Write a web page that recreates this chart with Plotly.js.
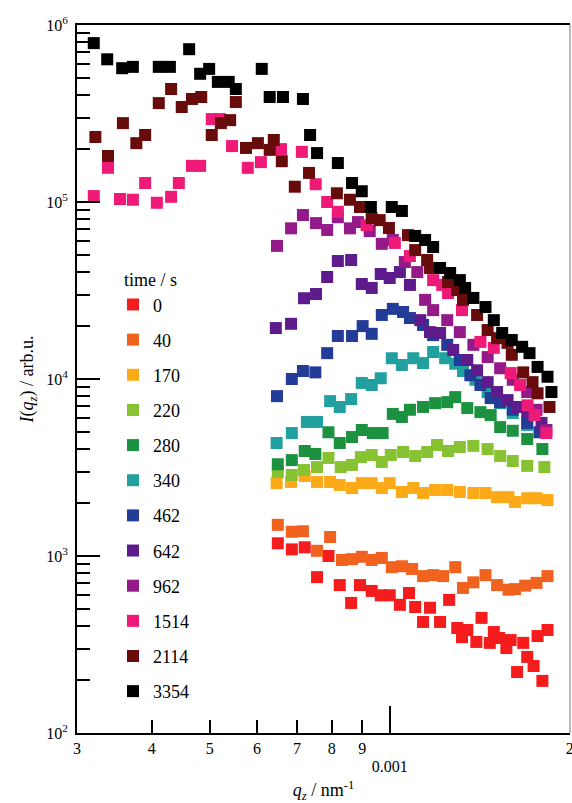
<!DOCTYPE html>
<html>
<head>
<meta charset="utf-8">
<script src="https://cdn.plot.ly/plotly-3.0.1.min.js"></script>
<style>html,body{margin:0;padding:0;background:#fff;}#chart{width:572px;height:803px;}</style>
</head>
<body>
<div id="chart"></div>
<script>
// legend labels (time / s)
const times = ['0','40','170','220','280','340','462','642','962','1514','2114','3354'];
const colors = ['#f41c1c','#f2621f','#fcaa17','#86c232','#1c9240','#21a09f','#233c98','#5d1b8c','#941a8a','#ef1a78','#680b0b','#000000'];

// q_z (nm^-1) and I(q_z) (arb.u.) for each time
const q_0 = [6.50e-4,6.86e-4,7.21e-4,7.56e-4,7.90e-4,8.25e-4,8.62e-4,8.92e-4,9.33e-4,9.66e-4,10.0e-4,10.4e-4,10.77e-4,11.03e-4,11.37e-4,11.68e-4,12.14e-4,12.57e-4,12.97e-4,13.21e-4,13.48e-4,13.96e-4,14.24e-4,14.7e-4,14.93e-4,15.24e-4,15.67e-4,15.93e-4,16.33e-4,16.72e-4,16.98e-4,17.4e-4,17.67e-4,18.0e-4,18.36e-4];
const I_0 = [1180,1090,1120,760,1000,685,543,685,635,600,600,530,618,515,424,510,424,565,392,348,382,327,447,323,372,344,302,335,221,323,269,239,353,197,382];

const q_40 = [6.50e-4,6.86e-4,7.16e-4,7.56e-4,7.95e-4,8.32e-4,8.65e-4,8.98e-4,9.33e-4,9.70e-4,10.08e-4,10.48e-4,10.9e-4,11.37e-4,11.82e-4,12.28e-4,12.87e-4,13.26e-4,13.8e-4,14.46e-4,15.12e-4,15.8e-4,16.2e-4,16.85e-4,17.6e-4,18.36e-4];
const I_40 = [1500,1370,1380,1070,1280,950,960,990,950,975,865,875,845,770,780,770,865,660,710,780,685,645,650,680,705,770];

const q_170 = [6.47e-4,6.84e-4,7.21e-4,7.56e-4,7.95e-4,8.25e-4,8.65e-4,8.98e-4,9.33e-4,9.70e-4,10.0e-4,10.48e-4,10.95e-4,11.37e-4,11.91e-4,12.48e-4,13.1e-4,13.8e-4,14.46e-4,15.12e-4,15.8e-4,16.2e-4,16.98e-4,17.6e-4,18.36e-4];
const I_170 = [2580,2620,2830,2620,2620,2520,2420,2580,2580,2420,2580,2300,2420,2270,2360,2360,2300,2270,2270,2150,2150,2020,2120,2120,2070];

const q_220 = [6.50e-4,6.86e-4,7.19e-4,7.56e-4,7.90e-4,8.28e-4,8.65e-4,8.95e-4,9.33e-4,9.70e-4,10.04e-4,10.53e-4,11.03e-4,11.55e-4,12.0e-4,12.52e-4,13.1e-4,13.8e-4,14.58e-4,15.3e-4,16.06e-4,16.98e-4,18.14e-4];
const I_220 = [2980,2870,3060,3180,3580,3180,3270,3620,3720,3400,3720,3870,3670,3870,4240,3920,4130,4190,4020,3670,3440,3230,3180];

const q_280 = [6.50e-4,6.86e-4,7.21e-4,7.51e-4,7.90e-4,8.25e-4,8.65e-4,8.98e-4,9.37e-4,9.73e-4,10.12e-4,10.48e-4,10.81e-4,11.37e-4,11.91e-4,12.48e-4,12.87e-4,13.48e-4,14.18e-4,14.75e-4,15.3e-4,16.06e-4,16.98e-4,18.0e-4];
const I_280 = [3300,3480,3920,3770,5000,4350,4700,5150,4950,4950,6350,6100,6700,6950,7300,7400,7900,6850,6500,6250,5350,5100,4580,4020];

const q_340 = [6.47e-4,6.86e-4,7.27e-4,7.56e-4,7.95e-4,8.25e-4,8.62e-4,8.98e-4,9.33e-4,9.66e-4,10.08e-4,10.48e-4,10.95e-4,11.37e-4,11.82e-4,12.38e-4,12.87e-4,13.26e-4,13.91e-4,14.58e-4,15.3e-4,16.06e-4,16.98e-4];
const I_340 = [4350,4950,5720,5720,7500,6950,7700,9500,9250,10100,13100,12000,13100,12300,14200,13100,12200,11100,9900,8440,7300,6430,5500];

const q_462 = [6.48e-4,6.86e-4,7.16e-4,7.51e-4,7.86e-4,8.19e-4,8.65e-4,9.01e-4,9.33e-4,9.70e-4,10.12e-4,10.53e-4,10.81e-4,11.37e-4,11.82e-4,12.48e-4,13.1e-4,13.64e-4,14.18e-4,14.75e-4,15.3e-4,16.06e-4,16.98e-4,17.8e-4];
const I_462 = [8000,10000,11100,10900,14000,17500,17500,19900,18000,23000,24900,23900,22100,20200,17700,15600,12800,10500,9250,7800,7400,6700,5650,5000];

const q_642 = [6.45e-4,6.84e-4,7.19e-4,7.53e-4,7.86e-4,8.19e-4,8.62e-4,8.98e-4,9.33e-4,9.66e-4,10.0e-4,10.4e-4,10.81e-4,11.25e-4,11.68e-4,12.14e-4,12.77e-4,13.48e-4,14.0e-4,14.58e-4,15.12e-4,15.74e-4,16.33e-4,16.98e-4,17.94e-4];
const I_642 = [19400,20500,28600,30200,37700,46400,47000,34400,32700,39200,37200,40200,34000,21500,18400,18200,14600,12800,11200,9600,8440,7600,6950,6500,5650];

const q_962 = [6.48e-4,6.84e-4,7.16e-4,7.53e-4,7.86e-4,8.19e-4,8.58e-4,8.85e-4,9.26e-4,9.70e-4,10.12e-4,10.6e-4,11.12e-4,11.46e-4,11.82e-4,12.48e-4,13.1e-4,13.8e-4,14.58e-4,15.3e-4,16.06e-4,16.98e-4,17.6e-4,18.28e-4];
const I_962 = [56500,71000,84400,76000,69500,82000,71000,77000,68500,58000,61000,45800,40200,28000,24500,21500,18400,15600,13300,11500,9900,8440,6700,5150];

const q_1514 = [3.20e-4,3.38e-4,3.54e-4,3.72e-4,3.90e-4,4.08e-4,4.31e-4,4.44e-4,4.67e-4,4.82e-4,5.04e-4,5.20e-4,5.45e-4,5.79e-4,6.09e-4,6.58e-4,7.13e-4,7.52e-4,7.86e-4,8.19e-4,9.15e-4,10.2e-4,10.81e-4,11.82e-4,12.24e-4,12.52e-4,13.21e-4,14.18e-4,14.93e-4,15.93e-4,16.52e-4,17.0e-4,17.47e-4,18.28e-4];
const I_1514 = [108000,156000,104000,103000,128000,99000,107000,128000,160000,160000,294000,294000,207000,156000,168000,199000,192000,126000,100000,88000,74000,58700,49500,36200,34000,30600,24500,16200,15000,10800,9250,7100,6250,4950];

const q_2114 = [3.22e-4,3.38e-4,3.58e-4,3.77e-4,3.90e-4,4.11e-4,4.31e-4,4.49e-4,4.67e-4,4.84e-4,5.04e-4,5.22e-4,5.41e-4,5.53e-4,5.75e-4,6.02e-4,6.30e-4,6.40e-4,6.60e-4,6.94e-4,7.33e-4,8.16e-4,8.58e-4,8.92e-4,9.33e-4,9.62e-4,9.97e-4,10.73e-4,11.03e-4,11.55e-4,11.68e-4,12.52e-4,12.97e-4,13.26e-4,14.0e-4,14.58e-4,15.12e-4,15.74e-4,16.0e-4,16.72e-4,17.33e-4,17.67e-4,18.5e-4];
const I_2114 = [233000,182000,279000,215000,239000,362000,435000,344000,382000,392000,239000,279000,290000,367000,202000,215000,197000,224000,170000,122000,146000,112000,103000,93700,81000,79000,71300,65000,53500,47000,42400,35300,31800,28000,23000,18900,17000,16000,13700,10900,9600,8300,6950];

const q_3354 = [3.20e-4,3.37e-4,3.57e-4,3.72e-4,4.11e-4,4.29e-4,4.62e-4,4.82e-4,4.99e-4,5.16e-4,5.38e-4,5.53e-4,6.11e-4,6.30e-4,6.63e-4,7.16e-4,7.36e-4,7.56e-4,8.19e-4,8.65e-4,8.98e-4,9.30e-4,10.08e-4,10.48e-4,11.03e-4,11.46e-4,11.82e-4,12.14e-4,12.62e-4,13.1e-4,13.37e-4,13.8e-4,14.46e-4,14.93e-4,15.42e-4,16.0e-4,16.65e-4,17.13e-4,17.67e-4,18.36e-4,18.64e-4];
const I_3354 = [790000,640000,570000,580000,580000,580000,730000,530000,565000,477000,477000,435000,565000,392000,392000,382000,239000,189000,166000,128000,115000,93700,93700,89000,64300,61000,55700,42400,39700,36200,32700,28700,25500,21500,18200,16600,15200,14000,11700,10300,8440];

// axis tick labels
const xTickVals = [3e-4,4e-4,5e-4,6e-4,7e-4,8e-4,9e-4,2e-3];
const xTickText = ['3','4','5','6','7','8','9','2'];
const xMajorVals = [1e-3];
const xMajorText = ['0.001'];
const yTickVals = [1e2,1e3,1e4,1e5,1e6];
const yTickText = ['10<sup>2</sup>','10<sup>3</sup>','10<sup>4</sup>','10<sup>5</sup>','10<sup>6</sup>'];

const qs = [q_0,q_40,q_170,q_220,q_280,q_340,q_462,q_642,q_962,q_1514,q_2114,q_3354];
const Is = [I_0,I_40,I_170,I_220,I_280,I_340,I_462,I_642,I_962,I_1514,I_2114,I_3354];

const traces = times.map((t,i)=>({
  type:'scatter', mode:'markers', name:t,
  x:qs[i], y:Is[i], legendgroup:'g'+i,
  // the last series sits on the overlaying axis that carries the 0.001 label (same range)
  xaxis: i === times.length-1 ? 'x2' : 'x',
  marker:{symbol:'square', size:12, color:colors[i], line:{width:0}}
}));

const yMinor = [];
for (let e=2;e<6;e++) for (let m=2;m<10;m++) yMinor.push(m*Math.pow(10,e));

const font = '"Liberation Serif", "Times New Roman", Times, serif';
const xr = [Math.log10(3e-4), Math.log10(2.002e-3)];
const layout = {
  width:572, height:803,
  margin:{l:77, r:2, t:25, b:70},
  paper_bgcolor:'#fff', plot_bgcolor:'#fff',
  font:{family:font, size:16, color:'#000'},
  showlegend:true,
  legend:{x:0.073, xanchor:'left', y:0.664, yanchor:'top', bgcolor:'rgba(0,0,0,0)',
    font:{family:font, size:18}, title:{text:'&nbsp;&nbsp;time / s', font:{family:font, size:18}},
    tracegroupgap:8.75, traceorder:'grouped'},
  xaxis:{type:'log', range:xr, tickmode:'array', tickvals:xTickVals, ticktext:xTickText,
    ticks:'inside', ticklen:13, tickwidth:2, tickcolor:'#000', ticklabeloverflow:'allow',
    showline:true, linewidth:2, linecolor:'#000', mirror:true,
    showgrid:false, zeroline:false, tickfont:{family:font, size:16},
    title:{text:'<i>q<sub>z</sub></i> / nm<sup>-1</sup>', font:{family:font, size:18}, standoff:30}},
  xaxis2:{type:'log', range:xr, overlaying:'x', anchor:'y', side:'bottom',
    tickmode:'array', tickvals:xMajorVals, ticktext:xMajorText,
    ticks:'inside', ticklen:27, tickwidth:2, tickcolor:'#000',
    showline:false, showgrid:false, zeroline:false, ticklabelstandoff:22,
    tickfont:{family:font, size:16}},
  yaxis:{type:'log', range:[2,6], tickmode:'array', tickvals:yTickVals, ticktext:yTickText,
    ticks:'inside', ticklen:23, tickwidth:2, tickcolor:'#000', ticklabelstandoff:4,
    minor:{tickmode:'array', tickvals:yMinor, ticks:'inside', ticklen:13, tickwidth:2, tickcolor:'#000', showgrid:false},
    showline:true, linewidth:2, linecolor:'#000', mirror:false,
    showgrid:false, zeroline:false, tickfont:{family:font, size:16},
    title:{text:'<i>I</i>(<i>q<sub>z</sub></i>) / arb.u.', font:{family:font, size:18}, standoff:8}},
  shapes:[{type:'line', xref:'paper', yref:'paper', x0:1, x1:1, y0:0, y1:1, line:{color:'#777', width:1}}]
};

Plotly.newPlot('chart', traces, layout, {displayModeBar:false, staticPlot:true});
</script>
</body>
</html>
